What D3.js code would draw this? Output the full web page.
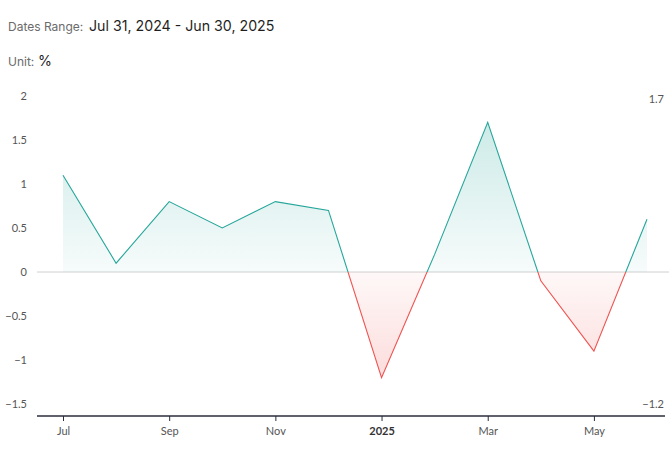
<!DOCTYPE html>
<html>
<head>
<meta charset="utf-8">
<script src="https://cdn.jsdelivr.net/npm/d3@7"></script>
<style>
  html, body { margin: 0; padding: 0; background: #fff; }
  #chart { width: 669px; height: 455px; }
</style>
</head>
<body>
<div id="chart"></div>
<script>
// monthly values, Jul 2024 - Jun 2025
var months = ["2024-07", "2024-08", "2024-09", "2024-10", "2024-11", "2024-12",
              "2025-01", "2025-02", "2025-03", "2025-04", "2025-05", "2025-06"];
var values = [1.1, 0.1, 0.8, 0.5, 0.8, 0.7, -1.2, 0.2, 1.7, -0.1, -0.9, 0.6];
var monthLabels = ["Jul", "Aug", "Sep", "Oct", "Nov", "Dec", "2025", "Feb", "Mar", "Apr", "May", "Jun"];
var xTicks = ["2024-07", "2024-09", "2024-11", "2025-01", "2025-03", "2025-05"];
var yTicks = [-1.5, -1, -0.5, 0, 0.5, 1, 1.5, 2];

var width = 669, height = 455;
var up = "#26a69a", down = "#ef5350";

var svg = d3.select("#chart").append("svg")
            .attr("width", width)
            .attr("height", height);

var data = months.map(function(m, i) { return { m: m, v: values[i] }; });

var x = d3.scalePoint().domain(months).range([63, 647]);
var y = d3.scaleLinear().domain([-1.5, 2]).range([404, 96]);

var maxV = d3.max(values), minV = d3.min(values);

/* header */
var head = svg.append("g").attr("font-family", "Inter, 'Open Sans', sans-serif");
head.append("text").attr("x", 8).attr("y", 31)
    .attr("font-size", 12).attr("fill", "#6b6b6b").text("Dates Range:");
head.append("text").attr("x", 89).attr("y", 31)
    .attr("font-size", 14.2).attr("fill", "#1f1f1f").text("Jul 31, 2024 - Jun 30, 2025");
head.append("text").attr("x", 8).attr("y", 66)
    .attr("font-size", 12).attr("fill", "#6b6b6b").text("Unit:");
head.append("text").attr("x", 38).attr("y", 66)
    .attr("font-size", 14.2).attr("fill", "#1f1f1f").text("%");

/* gradients + clips */
var defs = svg.append("defs");

var gUp = defs.append("linearGradient").attr("id", "gradUp")
    .attr("gradientUnits", "userSpaceOnUse")
    .attr("x1", 0).attr("x2", 0).attr("y1", y(maxV)).attr("y2", y(0));
gUp.append("stop").attr("offset", "0%").attr("stop-color", up).attr("stop-opacity", 0.23);
gUp.append("stop").attr("offset", "100%").attr("stop-color", up).attr("stop-opacity", 0.04);

var gDown = defs.append("linearGradient").attr("id", "gradDown")
    .attr("gradientUnits", "userSpaceOnUse")
    .attr("x1", 0).attr("x2", 0).attr("y1", y(0)).attr("y2", y(minV));
gDown.append("stop").attr("offset", "0%").attr("stop-color", down).attr("stop-opacity", 0.04);
gDown.append("stop").attr("offset", "100%").attr("stop-color", down).attr("stop-opacity", 0.2);

defs.append("clipPath").attr("id", "clipUp")
    .append("rect").attr("x", 0).attr("y", 0).attr("width", width).attr("height", y(0));
defs.append("clipPath").attr("id", "clipDown")
    .append("rect").attr("x", 0).attr("y", y(0)).attr("width", width).attr("height", height - y(0));

/* y axis labels */
var yAxis = svg.append("g")
    .attr("transform", "translate(27,0)")
    .call(d3.axisLeft(y).tickValues(yTicks).tickSize(0).tickPadding(0)
            .tickFormat(function(d) { return d3.format("")(d); }));
yAxis.select(".domain").remove();
yAxis.selectAll("text")
    .attr("font-family", "Lato, sans-serif")
    .attr("font-size", 11)
    .attr("fill", "#555");

/* zero line */
svg.append("line")
    .attr("x1", 37).attr("x2", width)
    .attr("y1", y(0)).attr("y2", y(0))
    .attr("stroke", "#d0d0d0").attr("stroke-width", 1);

/* areas + lines */
var area = d3.area()
    .x(function(d) { return x(d.m); })
    .y0(y(0))
    .y1(function(d) { return y(d.v); });

var line = d3.line()
    .x(function(d) { return x(d.m); })
    .y(function(d) { return y(d.v); });

svg.append("path").datum(data)
    .attr("clip-path", "url(#clipUp)")
    .attr("fill", "url(#gradUp)")
    .attr("d", area);
svg.append("path").datum(data)
    .attr("clip-path", "url(#clipDown)")
    .attr("fill", "url(#gradDown)")
    .attr("d", area);

svg.append("path").datum(data)
    .attr("clip-path", "url(#clipUp)")
    .attr("fill", "none").attr("stroke", up).attr("stroke-width", 1.1)
    .attr("d", line);
svg.append("path").datum(data)
    .attr("clip-path", "url(#clipDown)")
    .attr("fill", "none").attr("stroke", down).attr("stroke-width", 1.1)
    .attr("d", line);

/* x axis */
var xAxis = svg.append("g")
    .attr("transform", "translate(0,416)")
    .call(d3.axisBottom(x).tickValues(xTicks).tickSize(5).tickPadding(6)
            .tickFormat(function(d) { return monthLabels[months.indexOf(d)]; }));
xAxis.select(".domain")
    .attr("d", "M37,0H" + (width - 4))
    .attr("stroke", "#2a2e3b").attr("stroke-width", 1.5);
xAxis.selectAll(".tick line").attr("stroke", "#2a2e3b");
xAxis.selectAll("text")
    .attr("font-family", "Lato, sans-serif")
    .attr("font-size", 11)
    .attr("font-weight", function(d) { return d === "2025-01" ? "bold" : null; })
    .attr("fill", function(d) { return d === "2025-01" ? "#333" : "#555"; });

/* max / min labels on the right */
var side = svg.append("g")
    .attr("font-family", "Lato, sans-serif")
    .attr("font-size", 11)
    .attr("fill", "#555")
    .attr("text-anchor", "end");
side.append("text").attr("x", 664).attr("y", 103).text(d3.format(".1f")(maxV));
side.append("text").attr("x", 664).attr("y", 408).text(d3.format(".1f")(minV));
</script>
</body>
</html>
